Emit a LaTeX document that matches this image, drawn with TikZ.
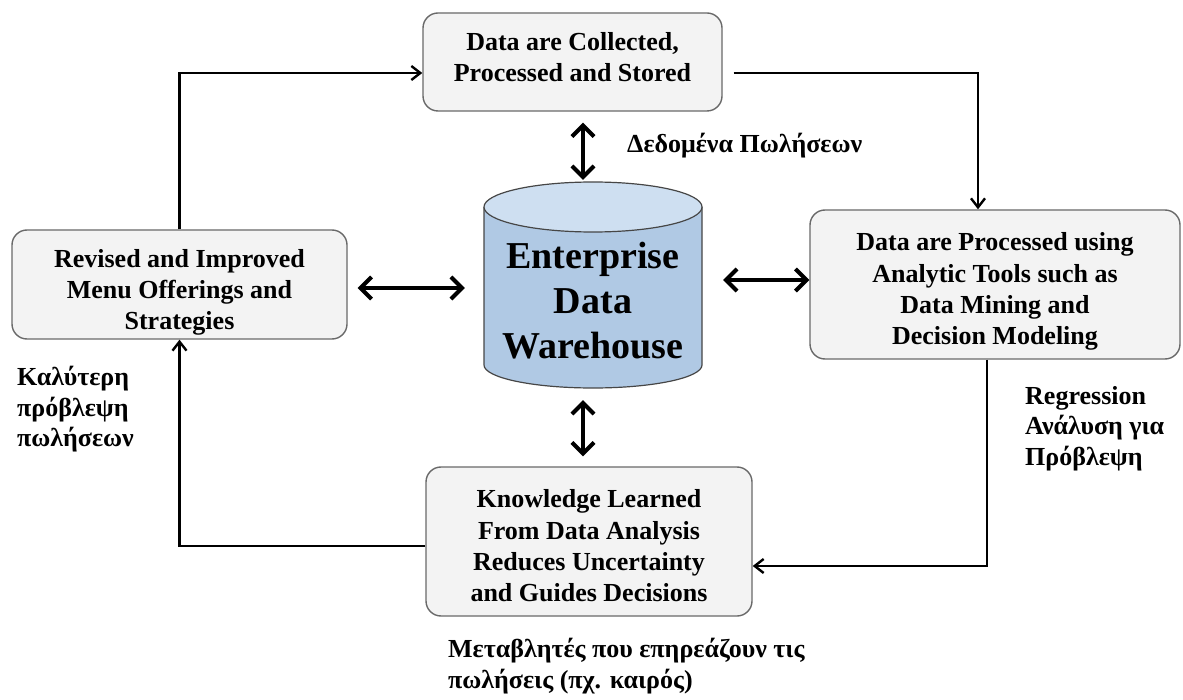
\documentclass[tikz,border=0pt]{standalone}
\usepackage{fontspec}
\setmainfont{Liberation Serif}
\usetikzlibrary{arrows.meta}
\definecolor{boxfill}{RGB}{243,243,243}
\definecolor{boxline}{RGB}{105,105,105}
\definecolor{cylbody}{RGB}{176,201,228}
\definecolor{cyltop}{RGB}{206,223,241}
\definecolor{cylline}{RGB}{70,70,70}
\tikzset{
  stagebox/.style={draw=boxline, fill=boxfill, line width=1.4pt,
    rounded corners=15pt, inner sep=0pt},
  stagetext/.style={align=center, inner sep=0pt,
    font=\bfseries\fontsize{26}{31.3}\selectfont},
  note/.style={align=left, inner sep=0pt,
    font=\bfseries\fontsize{26}{30.5}\selectfont},
  flow/.style={line width=2.4pt, -{Straight Barb[length=9pt,width=14pt]}},
  link/.style={line width=4pt,
    {Straight Barb[length=11pt,width=22pt]}-{Straight Barb[length=11pt,width=22pt]}}
}
\begin{document}
\begin{tikzpicture}[x=1pt,y=-1pt]
\useasboundingbox (0,0) rectangle (1183,700);

% process stages
\node[stagebox, minimum width=299pt, minimum height=98pt] (tb) at (572.5,62) {};
\node[stagetext] (tbt) at ([yshift=5pt]tb.center) {Data are Collected,\\Processed and Stored};
\node[stagebox, minimum width=335pt, minimum height=109pt] (lb) at (179.5,284.5) {};
\node[stagetext] (lbt) at ([yshift=-8pt]lb.center) {Revised and Improved\\Menu Offerings and\\Strategies};
\node[stagebox, minimum width=370pt, minimum height=149pt] (rb) at (995,284.5) {};
\node[stagetext] (rbt) at ([yshift=-7pt]rb.center) {Data are Processed using\\Analytic Tools such as\\Data Mining and\\Decision Modeling};
\node[stagebox, minimum width=326pt, minimum height=149pt] (bb) at (589,541.5) {};
\node[stagetext] (bbt) at ([yshift=-4.5pt]bb.center) {Knowledge Learned\\From Data Analysis\\Reduces Uncertainty\\and Guides Decisions};

% central data warehouse cylinder
\fill[cylbody] (484,207) -- (484,365) arc[start angle=180, end angle=360, x radius=109, y radius=-23]
  -- (702,207) -- cycle;
\draw[cylline, line width=1.2pt] (484,207) -- (484,365)
  arc[start angle=180, end angle=360, x radius=109, y radius=-23] -- (702,207);
\draw[cylline, line width=1.2pt, fill=cyltop] (593,207) ellipse[x radius=109, y radius=25];
\node[minimum width=218pt, minimum height=206pt, inner sep=0pt] (dw) at (593,285) {};
\node[align=center, inner sep=0pt, font=\bfseries\fontsize{38}{45}\selectfont] (dwtext) at (593,301)
  {Enterprise\\Data\\Warehouse};

% cycle connectors
\draw[flow] (lb.north) |- ([yshift=-11pt]tb.west);
\draw[flow] ([xshift=11pt,yshift=-11pt]tb.east) -| ([xshift=-17pt]rb.north);
\draw[flow] ([xshift=-8pt]rb.south) |- ([yshift=-24.5pt]bb.east);
\draw[flow] ([yshift=-4.5pt]bb.west) -| (lb.south);

% exchanges with the warehouse
\draw[link] ([xshift=10.5pt,yshift=-11pt]tb.south) -- ([xshift=-10pt,yshift=2pt]dw.north);
\draw[link] ([xshift=10pt,yshift=-3.5pt]lb.east) -- ([xshift=-19pt,yshift=-3pt]dw.west);
\draw[link] ([xshift=21pt,yshift=5pt]dw.east) -- ([yshift=4.5pt]rb.west);
\draw[link] ([xshift=-10pt,yshift=-12pt]dw.south) -- ([xshift=-6pt,yshift=10pt]bb.north);

% annotations
\node[note, anchor=north west] (n1) at (627,133) {Δεδομένα Πωλήσεων};
\node[note, anchor=north west] (n2) at (17,366) {Καλύτερη\\πρόβλεψη\\πωλήσεων};
\node[note, anchor=north west] (n3) at (1025,386) {Regression\\Ανάλυση για\\Πρόβλεψη};
\node[note, anchor=north west] (n4) at (448,638) {Μεταβλητές που επηρεάζουν τις\\πωλήσεις (πχ. καιρός)};
\end{tikzpicture}
\end{document}
